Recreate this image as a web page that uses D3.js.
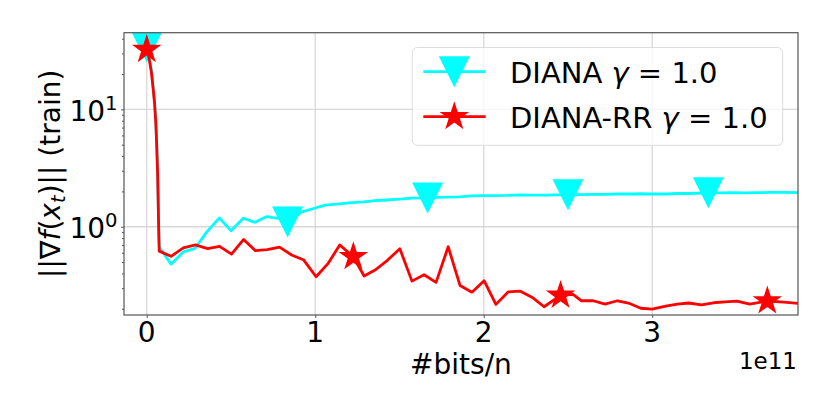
<!DOCTYPE html>
<html>
<head>
<meta charset="utf-8">
<script src="https://cdn.jsdelivr.net/npm/d3@7"></script>
<style>
  html, body { margin: 0; padding: 0; background: #fff; }
  svg { display: block; }
  text { font-family: "DejaVu Sans", sans-serif; fill: #000; }
</style>
</head>
<body>
<svg id="chart" width="831" height="415"></svg>
<script>
// ---------- DATA (x in units of 1e11 bits/n) ----------
const dianaX = [0, 0.012, 0.027, 0.038, 0.047, 0.054, 0.059, 0.064, 0.067, 0.070,
  0.074, 0.144, 0.217, 0.287, 0.355, 0.431, 0.500, 0.573, 0.643, 0.712, 0.781, 0.836,
  0.920, 0.990, 1.058, 1.128, 1.200, 1.286, 1.355, 1.424, 1.500, 1.572, 1.667, 1.717,
  1.786, 1.859, 1.930, 2.000, 2.070, 2.146, 2.215, 2.290, 2.360, 2.430, 2.500, 2.570,
  2.650, 2.720, 2.800, 2.870, 2.940, 3.000, 3.080, 3.150, 3.220, 3.333, 3.400, 3.480,
  3.550, 3.620, 3.700, 3.780, 3.870];
const dianaY = [34, 29, 22, 15.5, 11.5, 7.8, 5.2, 3.1, 2.0, 1.15,
  0.675, 0.48, 0.61, 0.655, 0.90, 1.19, 0.925, 1.18, 1.09, 1.22, 1.18, 1.10,
  1.34, 1.43, 1.53, 1.56, 1.60, 1.63, 1.67, 1.69, 1.72, 1.75, 1.76, 1.78,
  1.79, 1.80, 1.83, 1.84, 1.84, 1.85, 1.87, 1.86, 1.86, 1.87, 1.87, 1.88,
  1.89, 1.89, 1.90, 1.90, 1.91, 1.90, 1.90, 1.92, 1.92, 1.945, 1.94, 1.95,
  1.945, 1.95, 1.96, 1.96, 1.95];
const dianaMarkers = [0, 21, 32, 44, 55];

const rrX = [0, 0.012, 0.027, 0.038, 0.047, 0.054, 0.059, 0.064, 0.067, 0.070,
  0.074, 0.144, 0.217, 0.289, 0.361, 0.432, 0.503, 0.575, 0.645, 0.715, 0.788, 0.860,
  0.932, 1.005, 1.078, 1.145, 1.226, 1.290, 1.358, 1.430, 1.502, 1.574, 1.646, 1.717,
  1.789, 1.859, 1.930, 2.002, 2.072, 2.146, 2.215, 2.288, 2.358, 2.456, 2.530, 2.580,
  2.650, 2.720, 2.793, 2.866, 2.932, 3.000, 3.080, 3.150, 3.215, 3.292, 3.363, 3.432,
  3.503, 3.578, 3.683, 3.780, 3.870];
const rrY = [32.3, 28, 21, 15, 11, 7.5, 5, 3, 1.9, 1.1,
  0.62, 0.56, 0.66, 0.70, 0.65, 0.68, 0.585, 0.78, 0.625, 0.637, 0.67, 0.574,
  0.52, 0.375, 0.49, 0.70, 0.555, 0.38, 0.43, 0.52, 0.65, 0.344, 0.39, 0.336,
  0.675, 0.316, 0.277, 0.347, 0.218, 0.279, 0.283, 0.25, 0.208, 0.26, 0.265, 0.234,
  0.234, 0.219, 0.234, 0.222, 0.202, 0.199, 0.211, 0.219, 0.224, 0.216, 0.225, 0.229,
  0.232, 0.219, 0.233, 0.228, 0.222];
const rrMarkers = [0, 26, 43, 60];

const xTicks = [0, 1, 2, 3];
const xTickLabels = ["0", "1", "2", "3"];
const yTicks = [1, 10];
const yTickExp = ["0", "1"];
const yMinor = [0.2, 0.3, 0.4, 0.5, 0.6, 0.7, 0.8, 0.9, 2, 3, 4, 5, 6, 7, 8, 9, 20, 30, 40];

const seriesNames = ["DIANA", "DIANA-RR"];
const seriesColors = ["#00ffff", "#ff0000"];

// ---------- LAYOUT ----------
const L = 124, R = 798, T = 32.7, B = 315;
const svg = d3.select("#chart");
const x = d3.scaleLinear().domain([-0.135, 3.865]).range([L, R]);
const y = d3.scaleLog().domain([0.177, 45]).range([B, T]);

// grid
const grid = svg.append("g");
grid.selectAll("line.gx").data(xTicks).join("line")
  .attr("x1", d => x(d)).attr("x2", d => x(d)).attr("y1", T).attr("y2", B)
  .attr("stroke", "#d8d8d8").attr("stroke-width", 1.3);
grid.selectAll("line.gy").data(yTicks).join("line")
  .attr("y1", d => y(d)).attr("y2", d => y(d)).attr("x1", L).attr("x2", R)
  .attr("stroke", "#d8d8d8").attr("stroke-width", 1.3);

// clip
svg.append("defs").append("clipPath").attr("id", "clip")
  .append("rect").attr("x", L).attr("y", T).attr("width", R - L).attr("height", B - T);

const plot = svg.append("g").attr("clip-path", "url(#clip)");
const line = d3.line().x(d => x(d[0])).y(d => y(d[1]));

const triPath = r => `M0,${r}L${-r},${-r}L${r},${-r}Z`;
function starPath(r) {
  const ri = r * 0.381966;
  let p = "";
  for (let i = 0; i < 10; i++) {
    const rad = i % 2 === 0 ? r : ri;
    const a = -Math.PI / 2 + i * Math.PI / 5;
    p += (i === 0 ? "M" : "L") + (rad * Math.cos(a)).toFixed(2) + "," + (rad * Math.sin(a)).toFixed(2);
  }
  return p + "Z";
}

const dianaData = dianaX.map((v, i) => [v, dianaY[i]]);
const rrData = rrX.map((v, i) => [v, rrY[i]]);

plot.append("path").datum(dianaData).attr("d", line)
  .attr("fill", "none").attr("stroke", seriesColors[0]).attr("stroke-width", 2.8)
  .attr("stroke-linejoin", "round");
plot.selectAll("path.tri").data(dianaMarkers.map(i => dianaData[i])).join("path")
  .attr("d", triPath(15.5)).attr("transform", d => `translate(${x(d[0])},${y(d[1])})`)
  .attr("fill", seriesColors[0]);

plot.append("path").datum(rrData).attr("d", line)
  .attr("fill", "none").attr("stroke", seriesColors[1]).attr("stroke-width", 2.8)
  .attr("stroke-linejoin", "round");
plot.selectAll("path.star").data(rrMarkers.map(i => rrData[i])).join("path")
  .attr("d", starPath(15.5)).attr("transform", d => `translate(${x(d[0])},${y(d[1])})`)
  .attr("fill", seriesColors[1]);

// spines
svg.append("rect").attr("x", L).attr("y", T).attr("width", R - L).attr("height", B - T)
  .attr("fill", "none").attr("stroke", "#555").attr("stroke-width", 1.2);

// axes ticks
const xAxis = svg.append("g").attr("transform", `translate(0,${B})`)
  .call(d3.axisBottom(x).tickValues(xTicks).tickSize(3).tickFormat(""));
const yAxis = svg.append("g").attr("transform", `translate(${L},0)`)
  .call(d3.axisLeft(y).tickValues(yTicks).tickSize(3).tickFormat(""));
const yAxisMinor = svg.append("g").attr("transform", `translate(${L},0)`)
  .call(d3.axisLeft(y).tickValues(yMinor).tickSize(2).tickFormat(""));
[xAxis, yAxis, yAxisMinor].forEach(g => {
  g.select(".domain").remove();
  g.selectAll(".tick line").attr("stroke", "#555").attr("stroke-width", 1);
});

// x tick labels
svg.selectAll("text.xt").data(xTicks).join("text")
  .attr("x", d => x(d)).attr("y", 341.5).attr("text-anchor", "middle")
  .attr("font-size", 28).text((d, i) => xTickLabels[i]);

// y tick labels with superscript
yTicks.forEach((v, i) => {
  const t = svg.append("text").attr("x", 117.5).attr("y", y(v) + 11.3)
    .attr("text-anchor", "end").attr("font-size", 28);
  t.append("tspan").text("10");
  t.append("tspan").attr("font-size", 19.6).attr("dy", -10.7).text(yTickExp[i]);
});

// x label & offset
svg.append("text").attr("x", (L + R) / 2).attr("y", 374).attr("text-anchor", "middle")
  .attr("font-size", 28).text("#bits/n");
svg.append("text").attr("x", 797).attr("y", 369.3).attr("text-anchor", "end")
  .attr("font-size", 23).text("1e11");

// y label
const yl = svg.append("text").attr("transform", `translate(60,${(T + B) / 2}) rotate(-90)`)
  .attr("text-anchor", "middle").attr("font-size", 28);
yl.append("tspan").text("||∇");
yl.append("tspan").attr("font-style", "italic").text("f");
yl.append("tspan").text("(");
yl.append("tspan").attr("font-style", "italic").text("x");
yl.append("tspan").attr("font-style", "italic").attr("font-size", 19.6).attr("dy", 5).text("t");
yl.append("tspan").attr("dy", -5).text(")|| (train)");

// legend
const lg = svg.append("g");
lg.append("rect").attr("x", 412.3).attr("y", 47.5).attr("width", 370.4).attr("height", 97.8)
  .attr("rx", 5).attr("fill", "#fff").attr("fill-opacity", 0.8)
  .attr("stroke", "#dcdcdc").attr("stroke-width", 1);
const rowsY = [71.7, 116.7];
seriesNames.forEach((name, i) => {
  const yy = rowsY[i];
  lg.append("line").attr("x1", 423.3).attr("x2", 485.7).attr("y1", yy).attr("y2", yy)
    .attr("stroke", seriesColors[i]).attr("stroke-width", 2.8);
  lg.append("path").attr("d", i === 0 ? triPath(15.5) : starPath(15.5))
    .attr("transform", `translate(454.3,${yy})`).attr("fill", seriesColors[i]);
  const t = lg.append("text").attr("x", 510).attr("y", yy + 11).attr("font-size", 29);
  t.append("tspan").text(name + " ");
  t.append("tspan").attr("font-style", "italic").text("γ");
  t.append("tspan").text(" = 1.0");
});
</script>
</body>
</html>
